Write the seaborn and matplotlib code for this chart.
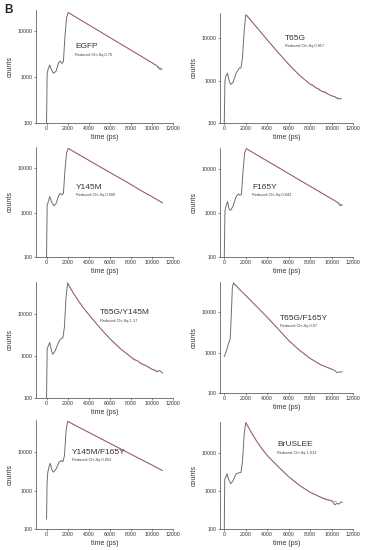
import numpy as np
import pandas as pd
import matplotlib
matplotlib.use('Agg')
import matplotlib.pyplot as plt
import seaborn as sns

# ---- data (time in ps, counts) ----
names = ['EGFP', 'T65G', 'Y145M', 'F165Y', 'T65G/Y145M', 'T65G/F165Y', 'Y145M/F165Y', 'BrUSLEE']
chisq = ['0.76', '0.857', '0.909', '0.943', '1.17', '0.97', '0.852', '1.013']

egfp_t = [0, 60, 150, 300, 450, 650, 900, 1150, 1300, 1450, 1600, 1750, 1900, 2050,
          3000, 4000, 5000, 6000, 7000, 8000, 9000, 10000, 10500, 10700, 10850, 10950]
egfp_c = [100, 1200, 1500, 1850, 1500, 1220, 1350, 2100, 2250, 2000, 2200, 8000, 20000, 26000,
          19200, 14000, 10200, 7400, 5400, 3930, 2860, 2080, 1750, 1520, 1480, 1550]
egfp_fit_t = [2050, 3000, 4000, 5000, 6000, 7000, 8000, 9000, 10000, 10900]
egfp_fit_c = [26000, 19200, 14000, 10200, 7400, 5400, 3930, 2860, 2080, 1560]

t65g_t = [0, 60, 150, 300, 450, 600, 800, 1100, 1400, 1550, 1700, 1850, 2000, 2100,
          2500, 3000, 4000, 5000, 6000, 7000, 8000, 8200, 8500, 8800, 9100, 9400, 9700,
          10000, 10300, 10600, 10900]
t65g_c = [100, 1000, 1300, 1500, 1000, 820, 900, 1500, 2000, 2000, 3500, 15000, 36000, 35000,
          26300, 18600, 9300, 4700, 2450, 1350, 830, 800, 690, 640, 560, 540, 480,
          440, 420, 370, 385]
t65g_fit_t = [2000, 2500, 3000, 4000, 5000, 6000, 7000, 8000, 9000, 10000, 10900]
t65g_fit_c = [36000, 26300, 18600, 9300, 4700, 2450, 1350, 830, 575, 440, 365]

y145m_t = [0, 60, 150, 300, 450, 700, 900, 1150, 1300, 1450, 1600, 1750, 1900, 2050,
           3000, 4000, 5000, 6000, 7000, 8000, 9000, 10000, 11000]
y145m_c = [100, 1500, 1700, 2300, 1800, 1420, 1600, 2400, 2700, 2500, 2700, 9000, 22000, 28000,
           20700, 15100, 11000, 8050, 5900, 4300, 3100, 2280, 1660]
y145m_fit_t = [2050, 3000, 4000, 5000, 6000, 7000, 8000, 9000, 10000, 11000]
y145m_fit_c = [28000, 20700, 15100, 11000, 8050, 5900, 4300, 3100, 2280, 1660]

f165y_t = [0, 60, 150, 300, 450, 600, 800, 1100, 1300, 1450, 1600, 1750, 1900, 2050,
           3000, 4000, 5000, 6000, 7000, 8000, 9000, 10000, 10600, 10800, 11000]
f165y_c = [100, 1100, 1400, 1800, 1200, 1150, 1400, 2300, 2700, 2500, 2600, 9000, 23000, 28500,
           20800, 15000, 10800, 7760, 5580, 4020, 2890, 2080, 1700, 1450, 1520]
f165y_fit_t = [2050, 3000, 4000, 5000, 6000, 7000, 8000, 9000, 10000, 11000]
f165y_fit_c = [28500, 20800, 15000, 10800, 7760, 5580, 4020, 2890, 2080, 1500]

t65g_y145m_t = [0, 60, 150, 300, 450, 600, 800, 1100, 1300, 1550, 1700, 1850, 2000,
                2500, 3000, 3500, 4000, 5000, 6000, 7000, 8000, 8300, 8600, 9000, 9400, 9800,
                10100, 10300, 10500, 10700, 10900, 11000]
t65g_y145m_c = [100, 1500, 1700, 2100, 1400, 1100, 1300, 2000, 2500, 2700, 5000, 25000, 55000,
                33000, 21000, 14000, 9800, 4900, 2600, 1500, 950, 820, 780, 650, 600, 520,
                470, 450, 420, 450, 420, 390]
t65g_y145m_fit_t = [2000, 2500, 3000, 3500, 4000, 5000, 6000, 7000, 8000, 9000, 10000, 10500]
t65g_y145m_fit_c = [55000, 33000, 21000, 14000, 9800, 4900, 2600, 1500, 950, 670, 490, 440]

t65g_f165y_t = [0, 200, 400, 550, 650, 750, 850, 1000, 1500, 2000, 3000, 4000, 5000, 6000,
                7000, 8000, 9000, 9500, 10000, 10300, 10500, 10700, 11000]
t65g_f165y_c = [800, 1100, 1700, 2200, 8000, 40000, 53000, 48000, 35000, 26000, 14000, 7500,
                3900, 2000, 1150, 720, 500, 440, 390, 360, 320, 330, 335]
t65g_f165y_fit_t = [850, 1000, 1500, 2000, 3000, 4000, 5000, 6000, 7000, 8000, 9000, 10000]
t65g_f165y_fit_c = [53000, 48000, 35000, 26000, 14000, 7500, 3900, 2000, 1150, 720, 500, 390]

y145m_f165y_t = [0, 50, 120, 250, 350, 500, 650, 900, 1200, 1400, 1550, 1700, 1850, 2000,
                 3000, 4000, 5000, 6000, 7000, 8000, 9000, 10000, 11000]
y145m_f165y_c = [180, 1500, 3000, 4300, 5100, 3500, 3000, 3600, 5500, 6000, 5600, 8000, 35000, 63000,
                 45000, 32500, 23400, 16900, 12200, 8800, 6350, 4600, 3300]
y145m_f165y_fit_t = [2000, 3000, 4000, 5000, 6000, 7000, 8000, 9000, 10000, 11000]
y145m_f165y_fit_c = [63000, 45000, 32500, 23400, 16900, 12200, 8800, 6350, 4600, 3300]

bruslee_t = [0, 40, 120, 250, 400, 600, 800, 1100, 1400, 1550, 1700, 1850, 2000,
             2500, 3000, 3500, 4000, 5000, 6000, 7000, 8000, 9000, 9300, 9600, 9900, 10100,
             10300, 10500, 10700, 10900, 11000]
bruslee_c = [100, 2000, 2200, 2800, 2000, 1550, 1800, 2800, 3000, 3000, 6000, 30000, 62000,
             35000, 20500, 12800, 8500, 4400, 2350, 1400, 920, 680, 620, 580, 560, 520,
             430, 470, 450, 520, 500]
bruslee_fit_t = [2000, 2500, 3000, 3500, 4000, 5000, 6000, 7000, 8000, 9000, 10000, 10500]
bruslee_fit_c = [62000, 35000, 20500, 12800, 8500, 4400, 2350, 1400, 920, 680, 550, 510]

data_t = [egfp_t, t65g_t, y145m_t, f165y_t, t65g_y145m_t, t65g_f165y_t, y145m_f165y_t, bruslee_t]
data_c = [egfp_c, t65g_c, y145m_c, f165y_c, t65g_y145m_c, t65g_f165y_c, y145m_f165y_c, bruslee_c]
fit_t = [egfp_fit_t, t65g_fit_t, y145m_fit_t, f165y_fit_t, t65g_y145m_fit_t, t65g_f165y_fit_t,
         y145m_f165y_fit_t, bruslee_fit_t]
fit_c = [egfp_fit_c, t65g_fit_c, y145m_fit_c, f165y_fit_c, t65g_y145m_fit_c, t65g_f165y_fit_c,
         y145m_f165y_fit_c, bruslee_fit_c]

xticks = [0, 2000, 4000, 6000, 8000, 10000, 12000]
yticks = [100, 1000, 10000]

# ---- layout (pixels) ----
W, H = 365, 550
cols = [(36, 173, -1000), (220, 353, -400)]
rows = [(10, 123, 29500), (13, 123, 40000), (147, 257, 30000), (148, 257, 29500),
        (282, 398, 58000), (282, 393, 56000), (420, 529, 68000), (422, 529, 64000)]
label_pos = [(75, 47), (285, 38), (76, 187), (252, 187), (100, 313), (280, 318), (72, 452), (277, 445)]

sns.set_style('ticks')
plt.rcParams['font.family'] = ['Liberation Sans', 'DejaVu Sans']

fig = plt.figure(figsize=(W / 100, H / 100), dpi=100)
fig.patch.set_facecolor('white')

for i in range(8):
    left, right, xmin = cols[i % 2]
    top, bottom, ymax = rows[i]
    ax = fig.add_axes([left / W, 1 - bottom / H, (right - left) / W, (bottom - top) / H])
    d = pd.DataFrame({'t': data_t[i], 'c': data_c[i]})
    f = pd.DataFrame({'t': fit_t[i], 'c': fit_c[i]})
    sns.lineplot(data=d, x='t', y='c', ax=ax, color='#6e6e6e', linewidth=0.7)
    sns.lineplot(data=f, x='t', y='c', ax=ax, color='#cc5a60', linewidth=0.45, alpha=0.9)
    ax.set_yscale('log')
    ax.set_xlim(xmin, 12000)
    ax.set_ylim(100, ymax)
    ax.set_xticks(xticks)
    ax.set_xticklabels([str(v) for v in xticks])
    ax.set_yticks(yticks)
    ax.set_yticklabels([str(v) for v in yticks])
    ax.yaxis.set_minor_locator(matplotlib.ticker.NullLocator())
    ax.tick_params(labelsize=3.8, length=1.5, width=0.4, pad=1, colors='#333333')
    for s in ['top', 'right']:
        ax.spines[s].set_visible(False)
    for s in ['left', 'bottom']:
        ax.spines[s].set_linewidth(0.5)
        ax.spines[s].set_color('#444444')
    ax.set_xlabel('time (ps)', fontsize=5, labelpad=1.5, color='#333333')
    ax.set_ylabel('counts', fontsize=5, labelpad=3, color='#333333')
    ax.set_facecolor('white')

    lx, ly = label_pos[i]
    fig.text(lx / W, 1 - ly / H, names[i], fontsize=6, color='#333333', va='center')
    fig.text(lx / W, 1 - (ly + 8) / H, 'Reduced Chi-Sq ' + chisq[i], fontsize=2.8,
             color='#444444', va='center')

fig.text(4 / W, 1 - 10 / H, 'B', fontsize=8.5, fontweight='bold', va='center')

fig.savefig('out.png', dpi=100, facecolor='white')
